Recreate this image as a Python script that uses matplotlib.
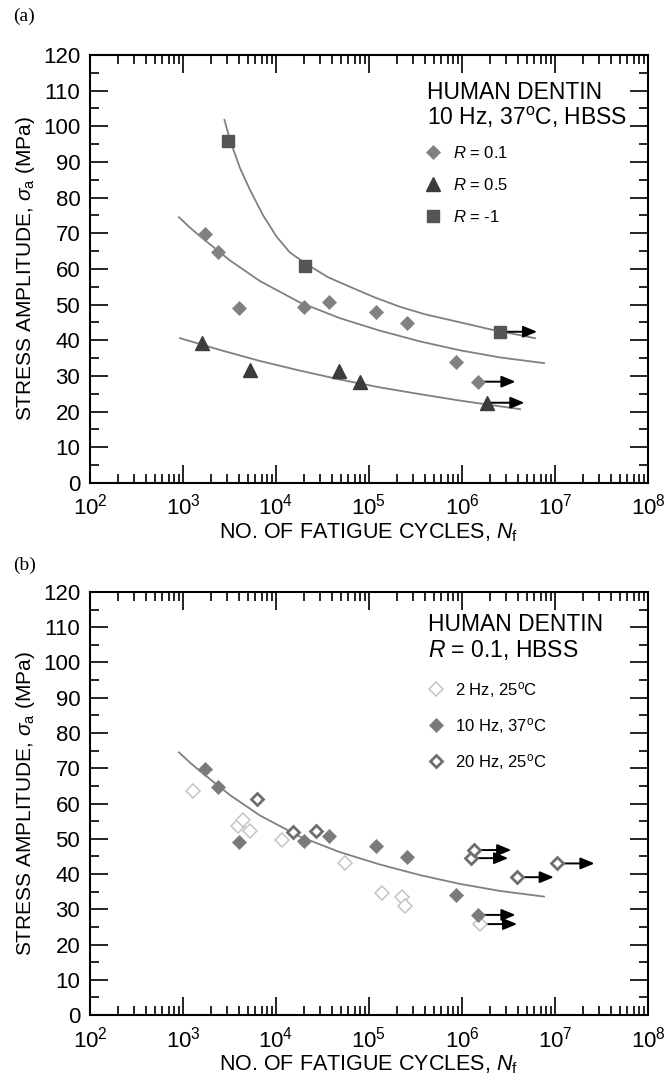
import matplotlib
matplotlib.use("Agg")
import matplotlib.pyplot as plt
from matplotlib.ticker import FixedLocator, MultipleLocator, NullFormatter, LogFormatterSciNotation

plt.rcParams['font.family'] = ['Liberation Sans', 'DejaVu Sans']
plt.rcParams['mathtext.fontset'] = 'custom'
plt.rcParams['mathtext.rm'] = 'Liberation Sans'
plt.rcParams['mathtext.it'] = 'Liberation Sans:italic'
plt.rcParams['mathtext.bf'] = 'Liberation Sans:bold'

# ---- panel (a): 10 Hz, 37 C, HBSS, three load ratios ----
r01_n = [1.73e3, 2.4e3, 4.0e3, 2.0e4, 3.75e4, 1.19e5, 2.58e5, 8.6e5, 1.5e6]
r01_s = [69.7, 64.7, 49.1, 49.3, 50.7, 48.0, 44.9, 34.0, 28.4]
r01_runout = [False, False, False, False, False, False, False, False, True]

r05_n = [1.6e3, 5.25e3, 4.75e4, 8.0e4, 1.87e6]
r05_s = [39.2, 31.7, 31.5, 28.4, 22.5]
r05_runout = [False, False, False, False, True]

rm1_n = [3.07e3, 2.07e4, 2.56e6]
rm1_s = [95.9, 60.9, 42.4]
rm1_runout = [False, False, True]

# fitted curves
fit01_n = [906, 1189, 1524, 3199, 6730, 1.811e4, 4.875e4, 1.312e5, 3.532e5,
           9.506e5, 2.564e6, 7.62e6]
fit01_s = [74.5, 71.6, 69.2, 62.4, 56.6, 50.6, 46.2, 42.7, 39.7, 37.2, 35.2, 33.6]

fit05_n = [929, 2500, 6730, 1.811e4, 4.875e4, 1.312e5, 3.532e5, 9.506e5, 2.564e6, 4.207e6]
fit05_s = [40.6, 37.3, 34.2, 31.5, 29.0, 26.8, 24.9, 23.1, 21.5, 20.7]

fitm1_n = [2793, 3199, 4102, 5248, 7244, 1.019e4, 1.416e4, 2.065e4, 3.622e4, 6.252e4,
           1.161e5, 2.153e5, 4.0e5, 7.43e5, 2.0e6, 6.095e6]
fitm1_s = [101.8, 96.2, 88.3, 82.2, 75.1, 69.0, 64.6, 61.6, 57.7, 55.0,
           52.0, 49.4, 47.3, 45.7, 43.1, 40.6]

# ---- panel (b): R = 0.1, HBSS, three frequencies ----
hz2_n = [1.29e3, 3.94e3, 4.45e3, 5.25e3, 1.15e4, 5.52e4, 1.39e5, 2.25e5, 2.44e5, 1.56e6]
hz2_s = [63.6, 53.6, 55.2, 52.2, 49.6, 43.2, 34.7, 33.6, 31.0, 25.8]
hz2_runout = [False] * 9 + [True]

hz10_n = r01_n
hz10_s = r01_s
hz10_runout = r01_runout

hz20_n = [6.19e3, 1.53e4, 2.67e4, 1.25e6, 1.35e6, 3.87e6, 1.06e7]
hz20_s = [61.2, 51.8, 52.2, 44.5, 46.8, 39.1, 43.0]
hz20_runout = [False, False, False, True, True, True, True]

x_major = [1e2, 1e3, 1e4, 1e5, 1e6, 1e7, 1e8]
x_minor = [m * d for d in x_major[:-1] for m in range(2, 10)]

ARROW_DECADES = 0.4
CURVE_COLOR = '#808080'


def runout_arrows(ax, n, s, flags):
    for ni, si, f in zip(n, s, flags):
        if f:
            ax.annotate('', xy=(ni * 10 ** ARROW_DECADES, si), xytext=(ni, si),
                        arrowprops=dict(arrowstyle='-|>,head_length=0.6,head_width=0.25',
                                        color='black', lw=1.4,
                                        mutation_scale=14, shrinkA=0, shrinkB=0),
                        zorder=2)


def style_axes(ax):
    ax.set_xscale('log')
    ax.set_xlim(1e2, 1e8)
    ax.set_ylim(0, 120)
    ax.yaxis.set_major_locator(MultipleLocator(10))
    ax.yaxis.set_minor_locator(MultipleLocator(5))
    ax.xaxis.set_major_locator(FixedLocator(x_major))
    ax.xaxis.set_major_formatter(LogFormatterSciNotation())
    ax.xaxis.set_minor_locator(FixedLocator(x_minor))
    ax.xaxis.set_minor_formatter(NullFormatter())
    ax.tick_params(which='both', direction='in', top=True, right=True,
                   width=1.2, labelsize=16)
    ax.tick_params(axis='x', which='major', pad=8)
    ax.tick_params(axis='y', which='major', pad=7)
    ax.tick_params(which='major', length=13)
    ax.tick_params(which='minor', length=6.5)
    for sp in ax.spines.values():
        sp.set_linewidth(1.5)
    ax.set_xlabel('NO. OF FATIGUE CYCLES, $N_{\\rm f}$', fontsize=15.5, labelpad=1)
    ax.set_ylabel('STRESS AMPLITUDE, $\\sigma_{\\rm a}$ (MPa)', fontsize=15, labelpad=4)


fig = plt.figure(figsize=(6.7, 10.74), dpi=100)
ax_a = fig.add_axes([0.1343, 0.5503, 0.8328, 0.3985])
ax_b = fig.add_axes([0.1343, 0.0549, 0.8328, 0.3939])

# panel (a)
style_axes(ax_a)
ax_a.plot(fit01_n, fit01_s, color=CURVE_COLOR, lw=1.3, zorder=1)
ax_a.plot(fit05_n, fit05_s, color=CURVE_COLOR, lw=1.3, zorder=1)
ax_a.plot(fitm1_n, fitm1_s, color=CURVE_COLOR, lw=1.3, zorder=1)
runout_arrows(ax_a, r01_n, r01_s, r01_runout)
runout_arrows(ax_a, r05_n, r05_s, r05_runout)
runout_arrows(ax_a, rm1_n, rm1_s, rm1_runout)
h1, = ax_a.plot(r01_n, r01_s, 'D', ms=6.8, color='#808080', mec='#8a8a8a', mew=0.6,
                ls='none', zorder=3, label='$R$ = 0.1')
h2, = ax_a.plot(r05_n, r05_s, '^', ms=9.5, color='#3c3c3c', mec='#3c3c3c',
                ls='none', zorder=3, label='$R$ = 0.5')
h3, = ax_a.plot(rm1_n, rm1_s, 's', ms=8.5, color='#555555', mec='#555555',
                ls='none', zorder=3, label='$R$ = -1')
ax_a.text(0.604, 0.8972, 'HUMAN DENTIN', transform=ax_a.transAxes,
          ha='left', va='baseline', fontsize=16.5)
ax_a.text(0.604, 0.8364, '10 Hz, 37$^{\\rm o}$C, HBSS', transform=ax_a.transAxes,
          ha='left', va='baseline', fontsize=16.5)
ax_a.legend(handles=[h1, h2, h3], loc='upper left', bbox_to_anchor=(0.600, 0.79),
            frameon=False, fontsize=12, handlelength=1.0, handletextpad=0.7,
            labelspacing=0.95, borderaxespad=0, borderpad=0)

# panel (b)
style_axes(ax_b)
ax_b.plot(fit01_n, fit01_s, color=CURVE_COLOR, lw=1.3, zorder=1)
runout_arrows(ax_b, hz2_n, hz2_s, hz2_runout)
runout_arrows(ax_b, hz10_n, hz10_s, hz10_runout)
runout_arrows(ax_b, hz20_n, hz20_s, hz20_runout)
g1, = ax_b.plot(hz2_n, hz2_s, 'D', ms=7.5, mfc='white', mec='#c4c4c4', mew=1.1,
                ls='none', zorder=3, label='2 Hz, 25$^{\\rm o}$C')
g2, = ax_b.plot(hz10_n, hz10_s, 'D', ms=6.8, color='#7a7a7a', mec='#848484', mew=0.6,
                ls='none', zorder=4, label='10 Hz, 37$^{\\rm o}$C')
g3, = ax_b.plot(hz20_n, hz20_s, 'D', ms=6.0, mfc='white', mec='#6e6e6e', mew=2.0,
                ls='none', zorder=5, label='20 Hz, 25$^{\\rm o}$C')
ax_b.text(0.606, 0.9085, 'HUMAN DENTIN', transform=ax_b.transAxes,
          ha='left', va='baseline', fontsize=16.5)
ax_b.text(0.606, 0.847, '$R$ = 0.1, HBSS', transform=ax_b.transAxes,
          ha='left', va='baseline', fontsize=16.5)
ax_b.legend(handles=[g1, g2, g3], loc='upper left', bbox_to_anchor=(0.605, 0.792),
            frameon=False, fontsize=12, handlelength=1.0, handletextpad=0.63,
            labelspacing=0.95, borderaxespad=0, borderpad=0)

fig.text(13 / 670, 1 - 16 / 1074, '(a)', family='Liberation Serif', fontsize=14,
         ha='left', va='center')
fig.text(13 / 670, 1 - 565 / 1074, '(b)', family='Liberation Serif', fontsize=14,
         ha='left', va='center')

fig.savefig('out.png', dpi=100)
